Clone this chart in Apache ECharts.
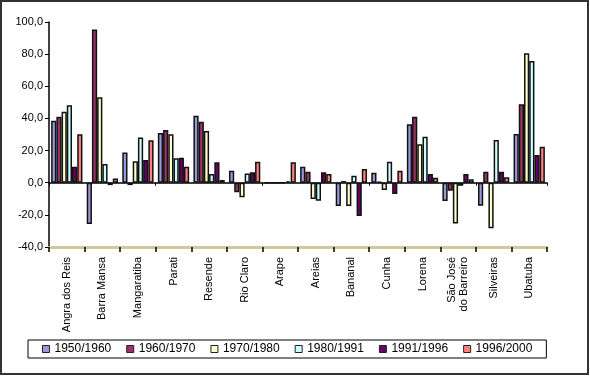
<!DOCTYPE html>
<html>
<head>
<meta charset="utf-8">
<script src="https://cdn.jsdelivr.net/npm/echarts@6/dist/echarts.min.js"></script>
<style>
  html, body { margin: 0; padding: 0; background: #fff; }
  #chart { width: 590px; height: 376px; }
</style>
</head>
<body>
<div id="chart"></div>
<script>
// municipios
var cidades = ['Angra dos Reis', 'Barra Mansa', 'Mangaratiba', 'Parati', 'Resende', 'Rio Claro',
  'Arape', 'Areias', 'Bananal', 'Cunha', 'Lorena', 'São José\ndo Barreiro', 'Silveiras', 'Ubatuba']

var periodos = ['1950/1960', '1960/1970', '1970/1980', '1980/1991', '1991/1996', '1996/2000']
var cores = ['#9999DD', '#993366', '#FFFFCC', '#CCFFFF', '#660066', '#FF8080']

// taxas de crescimento (%) por periodo
var p1950 = [38.6, -25.7, 18.8, 31.0, 41.7, 7.5, 0, 10.0, -14.5, 6.2, 36.3, -11.4, -14.3, 30.3]
var p1960 = [41.0, 95.4, -1.5, 32.8, 38.0, -6.0, 0, 6.8, 1.0, 0.5, 41.0, -5.0, 6.8, 48.8]
var p1970 = [44.2, 53.1, 13.3, 30.1, 32.2, -9.1, 0, -10.1, -14.5, -4.5, 23.9, -25.3, -28.4, 80.5]
var p1980 = [48.2, 11.6, 28.2, 15.2, 5.4, 5.8, 0, -11.2, 4.4, 13.1, 28.6, -1.9, 26.6, 75.7]
var p1991 = [10.0, -1.5, 14.1, 15.6, 12.7, 6.5, 0.8, 6.5, -20.7, -7.0, 5.4, 5.4, 6.8, 17.2]
var p1996 = [30.1, 2.7, 26.4, 10.0, 1.7, 13.1, 12.7, 5.4, 8.5, 7.5, 3.1, 2.1, 3.4, 22.4]

var valores = [p1950, p1960, p1970, p1980, p1991, p1996]

var yTicks = { min: -40, max: 100, interval: 20 }

var series = periodos.map(function (nome, i) {
  return {
    name: nome,
    type: 'bar',
    xAxisIndex: 0,
    data: valores[i],
    barGap: '0%',
    barCategoryGap: '12%',
    itemStyle: {
      color: cores[i],
      borderColor: '#111',
      borderWidth: 1.5
    }
  }
})

var chart = echarts.init(document.getElementById('chart'))
chart.setOption({
  animation: false,
  textStyle: { fontFamily: 'Liberation Sans, Arial, sans-serif' },
  graphic: [{
    type: 'rect',
    shape: { x: 1, y: 1, width: 587, height: 373 },
    style: { fill: 'none', stroke: '#333', lineWidth: 2 },
    silent: true
  }],
  grid: { left: 49, right: 43, top: 22, bottom: 129 },
  legend: {
    left: 28,
    top: 340,
    data: periodos,
    icon: 'rect',
    itemWidth: 7,
    itemHeight: 7,
    itemGap: 15,
    padding: [3, 14, 3, 14],
    borderColor: '#000',
    borderWidth: 1,
    itemStyle: { borderColor: '#222', borderWidth: 1 },
    textStyle: { fontSize: 12, color: '#000', fontFamily: 'Liberation Sans, Arial, sans-serif' }
  },
  xAxis: [{
    type: 'category',
    data: cidades,
    position: 'bottom',
    axisLine: { onZero: true, lineStyle: { color: '#000', width: 1.5 } },
    axisTick: { show: true, length: 3, lineStyle: { color: '#000' } },
    axisLabel: { show: false }
  }, {
    type: 'category',
    data: cidades,
    position: 'bottom',
    axisLine: { onZero: false, lineStyle: { color: '#cfcb98', width: 3 } },
    axisTick: { show: true, length: 5, lineStyle: { color: '#000', width: 1.5 } },
    axisLabel: {
      rotate: 90,
      margin: 10,
      fontSize: 11,
      color: '#000',
      interval: 0,
      lineHeight: 12
    }
  }],
  yAxis: {
    type: 'value',
    min: yTicks.min,
    max: yTicks.max,
    interval: yTicks.interval,
    splitLine: { show: false },
    axisLine: { show: true, lineStyle: { color: '#000', width: 1.5 } },
    axisTick: { show: true, length: 4, lineStyle: { color: '#000' } },
    axisLabel: {
      fontSize: 11,
      color: '#000',
      margin: 6,
      formatter: function (v) { return v.toFixed(1).replace('.', ',') }
    }
  },
  series: series
})
</script>
</body>
</html>
